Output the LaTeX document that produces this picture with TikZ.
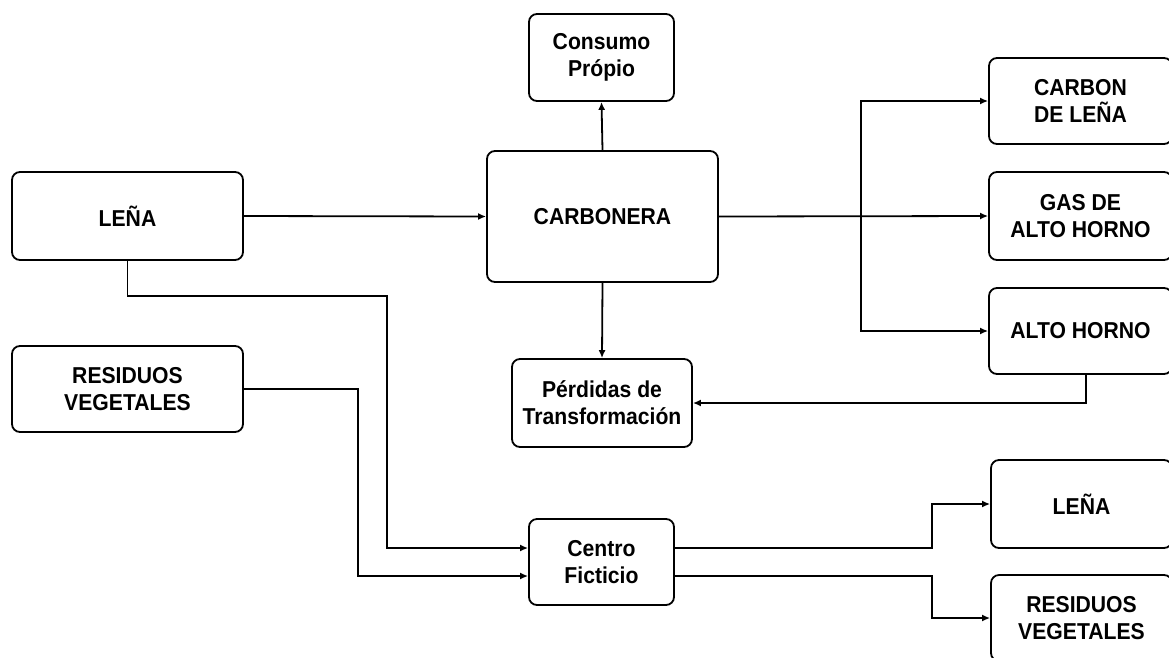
\documentclass[tikz,border=0pt]{standalone}
\usepackage{fontspec}
\setmainfont{Liberation Sans}[FakeStretch=0.92]
\usetikzlibrary{arrows.meta}
\begin{document}
\begin{tikzpicture}[x=1pt,y=-1pt,
  box/.style={draw, line width=1.8pt, rounded corners=8pt, inner sep=0pt, align=center,
    font=\bfseries\fontsize{23}{27}\selectfont},
  link/.style={line width=1.8pt, -{Latex[length=8pt,width=7pt]}}]
\useasboundingbox (0,0) rectangle (1169,657);
\clip (0,0) rectangle (1169,657);
\fill[white] (0,0) rectangle (1169,657);
% nodes
\node[box, minimum width=231pt, minimum height=88pt] (lena) at (127.5,216) {LEÑA};
\node[box, minimum width=231pt, minimum height=86pt] (res) at (127.5,389) {RESIDUOS\\VEGETALES};
\node[box, minimum width=231pt, minimum height=131pt] (carb) at (602.5,216.5) {CARBONERA};
\node[box, minimum width=145pt, minimum height=87pt] (cons) at (601.5,57.5) {Consumo\\Própio};
\node[box, minimum width=180pt, minimum height=88pt] (perd) at (602,403) {Pérdidas de\\Transformación};
\node[box, minimum width=145pt, minimum height=86pt] (centro) at (601.5,562) {Centro\\Ficticio};
\node[box, minimum width=183pt, minimum height=86pt] (cdl) at (1080.5,101) {CARBON\\DE LEÑA};
\node[box, minimum width=183pt, minimum height=88pt] (gas) at (1080.5,216) {GAS DE\\ALTO HORNO};
\node[box, minimum width=183pt, minimum height=86pt] (alto) at (1080.5,331) {ALTO HORNO};
\node[box, minimum width=181pt, minimum height=88pt] (lena2) at (1081.5,504) {LEÑA};
\node[box, minimum width=181pt, minimum height=86pt] (res2) at (1081.5,618) {RESIDUOS\\VEGETALES};
% helper coordinates
\coordinate (bx) at (861,216);
\coordinate (ab) at (1086,374);
\coordinate (lx) at (387,296);
\coordinate (rx) at (358,576);
\coordinate (oa) at (932,504);
\coordinate (ob) at (932,618);
% connectors
\draw[link] (lena.east) -- (carb.west);
\draw[link] (carb.north) -- (cons.south);
\draw[link] (carb.south) -- (perd.north);
\draw[link] (carb.east) -- (gas.west);
\draw[link] (bx) |- (cdl.west);
\draw[link] (bx) |- (alto.west);
\draw[link] (ab) |- (perd.east);
\draw[link] (lena.south) |- (lx) |- ([yshift=14pt]centro.west);
\draw[link] (res.east) -| (rx) -- ([yshift=-14pt]centro.west);
\draw[link] ([yshift=14pt]centro.east) -| (oa) -- (lena2.west);
\draw[link] ([yshift=-14pt]centro.east) -| (ob) -- (res2.west);
\end{tikzpicture}
\end{document}
